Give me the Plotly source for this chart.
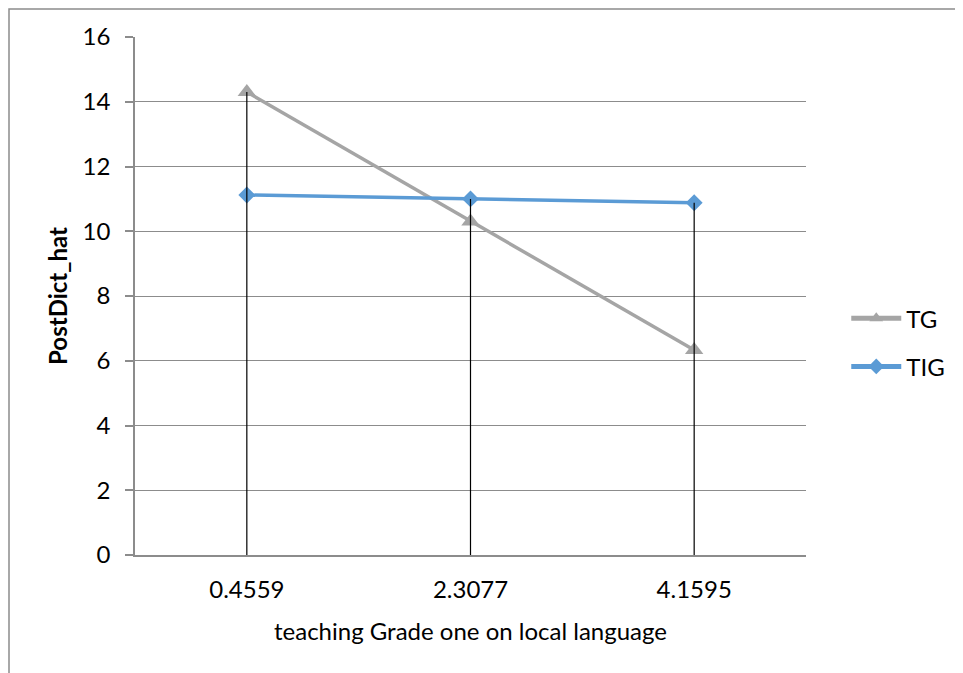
import plotly.graph_objects as go

categories = ["0.4559", "2.3077", "4.1595"]
tg_values = [14.3, 10.3, 6.33]
tig_values = [11.12, 11.0, 10.88]
y_ticks = [0, 2, 4, 6, 8, 10, 12, 14, 16]

FONT = "Lato"
FS = 24
OFF = 8  # page body margin
W, H = 963 - OFF, 673 - OFF
L, R, T, B = 135 - OFF, 806 - OFF, 37 - OFF, 555 - OFF

drop_top = [max(a, b) for a, b in zip(tg_values, tig_values)]

fig = go.Figure()
fig.add_trace(go.Scatter(
    x=categories, y=tg_values, name="TG", mode="lines+markers",
    legendgroup="a",
    line=dict(color="#A5A5A5", width=3.5),
    marker=dict(symbol="triangle-up", size=16, color="#A5A5A5"),
))
fig.add_trace(go.Scatter(
    x=categories, y=tig_values, name="TIG", mode="lines+markers",
    legendgroup="b",
    line=dict(color="#5B9BD5", width=3.5),
    marker=dict(symbol="diamond", size=13, color="#5B9BD5"),
))
fig.add_trace(go.Scatter(
    x=categories, y=drop_top, mode="markers", showlegend=False,
    marker=dict(opacity=0, size=1), hoverinfo="skip",
    error_y=dict(type="data", symmetric=False, array=[0] * len(drop_top),
                 arrayminus=drop_top, color="black", thickness=1.2, width=0),
))

pw = R - L
ph = B - T
fig.add_shape(type="rect", xref="paper", yref="paper",
              x0=(1 - L) / pw, x1=(1000 - L) / pw,
              y0=(B - 700) / ph, y1=(B - 1) / ph,
              line=dict(color="#8C8C8C", width=1.5), fillcolor="rgba(0,0,0,0)",
              layer="below")

fig.update_layout(
    width=W, height=H,
    margin=dict(l=L, r=W - R, t=T, b=H - B, pad=0),
    paper_bgcolor="white", plot_bgcolor="white",
    font=dict(family=FONT, size=FS, color="black"),
    xaxis=dict(
        type="category", showgrid=False, ticks="", showline=True,
        linecolor="#8C8C8C", linewidth=1.5, range=[-0.5, 2.5],
        tickfont=dict(size=FS), ticklabelstandoff=12,
        title=dict(text="teaching Grade one on local language", font=dict(size=FS), standoff=22),
        zeroline=False,
    ),
    yaxis=dict(
        range=[0, 16], tickvals=y_ticks, showgrid=True, gridcolor="#8C8C8C",
        gridwidth=1, showline=True, linecolor="#8C8C8C", linewidth=1.5,
        ticks="outside", ticklen=8, tickcolor="#8C8C8C", tickwidth=1.5,
        zeroline=False, tickfont=dict(size=FS), ticklabelstandoff=10,
        title=dict(text="<b>PostDict_hat</b>", font=dict(size=FS), standoff=8),
    ),
    legend=dict(x=1.06, y=0.41, xanchor="left", yanchor="middle",
                font=dict(size=FS), tracegroupgap=14, itemsizing="constant",
                itemwidth=50, bgcolor="rgba(0,0,0,0)"),
    showlegend=True,
)

fig.write_html("out.html")
